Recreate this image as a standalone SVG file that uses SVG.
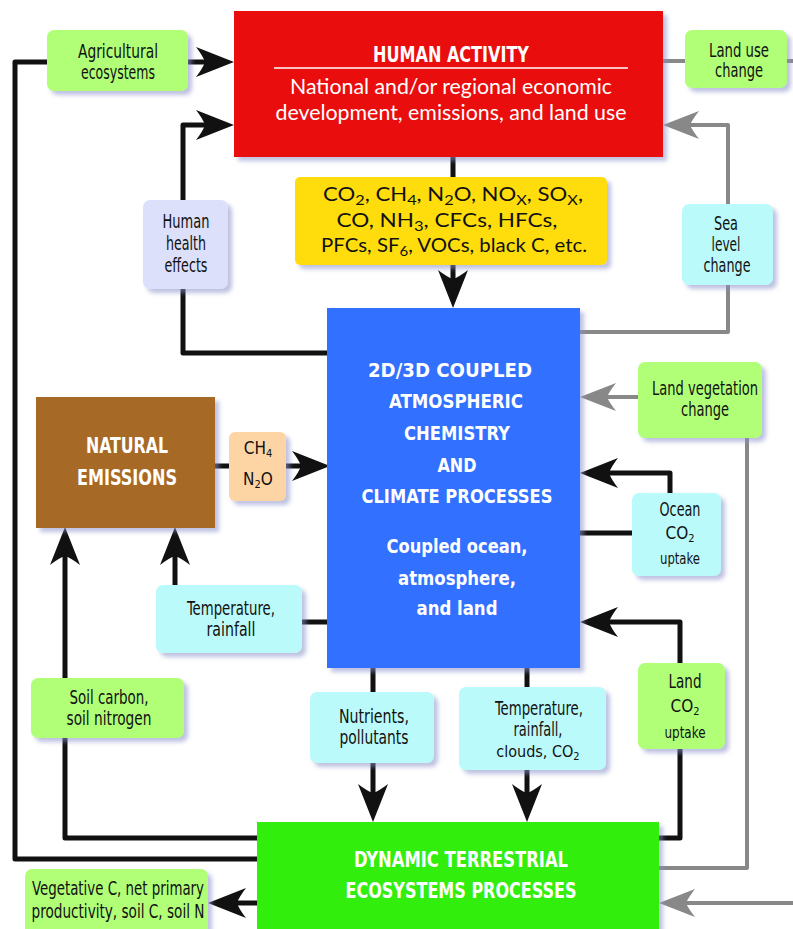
<svg xmlns="http://www.w3.org/2000/svg" width="793" height="929" viewBox="0 0 793 929">
<defs>
<style>
.ln{fill:none;stroke:#111;stroke-width:5;stroke-linejoin:round}
.gl{fill:none;stroke:#888;stroke-width:4;stroke-linejoin:round}
.lbl{font-family:"Liberation Sans Narrow","DejaVu Sans Condensed",sans-serif;font-size:19px;fill:#111;text-anchor:middle}
.chem{font-size:17px}
.sm{font-size:16px}
.sub{font-size:11px}
.bw{font-family:"DejaVu Sans Condensed","Liberation Sans",sans-serif;font-weight:bold;fill:#fff;text-anchor:middle}
.hum{font-family:Lato,"Open Sans","Liberation Sans",sans-serif;fill:#fff;text-anchor:middle;font-size:21px}
.yl{font-family:Lato,"Open Sans","Liberation Sans",sans-serif;fill:#111;text-anchor:middle;font-size:19px}
.box{filter:url(#sh)}
</style>
<filter id="sh" x="-10%" y="-10%" width="130%" height="130%">
<feDropShadow dx="4" dy="4" stdDeviation="2" flood-color="#8890c8" flood-opacity="0.55"/>
</filter>
<marker id="ab" viewBox="-40 -16 42 32" markerWidth="42" markerHeight="32" refX="-20" refY="0" orient="auto" markerUnits="userSpaceOnUse">
<path d="M0,0 L-38,-15 Q-31,-6 -29,0 Q-31,6 -38,15 Z" fill="#111"/>
</marker>
<marker id="ag" viewBox="-40 -16 42 32" markerWidth="42" markerHeight="32" refX="-20" refY="0" orient="auto" markerUnits="userSpaceOnUse">
<path d="M0,0 L-36,-14 Q-29,-5 -27,0 Q-29,5 -36,14 Z" fill="#888"/>
</marker>
</defs>
<rect width="793" height="929" fill="#fff"/>

<g id="connectors">
<path class="ln" d="M257,859 L15,859 L15,62 L214,62" marker-end="url(#ab)"/>
<path class="ln" d="M327,353 L183,353 L183,125 L214,125" marker-end="url(#ab)"/>
<path class="ln" d="M453,157 L453,288" marker-end="url(#ab)"/>
<path class="ln" d="M215,466 L310,466" marker-end="url(#ab)"/>
<path class="ln" d="M257,838 L65,838 L65,547" marker-end="url(#ab)"/>
<path class="ln" d="M327,622 L175,622 L175,547" marker-end="url(#ab)"/>
<path class="ln" d="M580,533 L632,533"/>
<path class="ln" d="M670,494 L670,473 L600,473" marker-end="url(#ab)"/>
<path class="ln" d="M659,838 L680,838 L680,622 L600,622" marker-end="url(#ab)"/>
<path class="ln" d="M373,668 L373,802" marker-end="url(#ab)"/>
<path class="ln" d="M527,668 L527,802" marker-end="url(#ab)"/>
<path class="ln" d="M257,903 L228,903" marker-end="url(#ab)"/>
<path class="gl" d="M663,61 L793,61"/>
<path class="gl" d="M580,332 L728,332 L728,125 L683,125" marker-end="url(#ag)"/>
<path class="gl" d="M638,397 L600,397" marker-end="url(#ag)"/>
<path class="gl" d="M747,438 L747,868 L659,868"/>
<path class="gl" d="M793,903 L679,903" marker-end="url(#ag)"/>
</g>

<g id="human-activity">
<rect class="box" x="234" y="11" width="429" height="146" fill="#ea1111"/>
<text class="bw" x="451" y="62" font-size="21" textLength="156" lengthAdjust="spacingAndGlyphs">HUMAN ACTIVITY</text>
<line x1="274" y1="68" x2="628" y2="68" stroke="#fff" stroke-width="1.5"/>
<text class="hum" x="451" y="94" textLength="322" lengthAdjust="spacingAndGlyphs">National and/or regional economic</text>
<text class="hum" x="451" y="120" textLength="351" lengthAdjust="spacingAndGlyphs">development, emissions, and land use</text>
</g>

<g id="emissions">
<rect class="box" x="295" y="177" width="312" height="88" rx="5" fill="#ffdd11"/>
<text class="yl" x="453" y="201" textLength="260" lengthAdjust="spacingAndGlyphs">CO<tspan dy="4" font-size="14">2</tspan><tspan dy="-4">, CH</tspan><tspan dy="4" font-size="14">4</tspan><tspan dy="-4">, N</tspan><tspan dy="4" font-size="14">2</tspan><tspan dy="-4">O, NO</tspan><tspan dy="4" font-size="14">X</tspan><tspan dy="-4">, SO</tspan><tspan dy="4" font-size="14">X</tspan><tspan dy="-4">,</tspan></text>
<text class="yl" x="447" y="227" textLength="221" lengthAdjust="spacingAndGlyphs">CO, NH<tspan dy="4" font-size="14">3</tspan><tspan dy="-4">, CFCs, HFCs,</tspan></text>
<text class="yl" x="454" y="252" textLength="266" lengthAdjust="spacingAndGlyphs">PFCs, SF<tspan dy="4" font-size="14">6</tspan><tspan dy="-4">, VOCs, black C, etc.</tspan></text>
</g>

<g id="agricultural">
<rect class="box" x="47" y="30" width="141" height="61" rx="7" fill="#b0ff77"/>
<text class="lbl" x="118" y="58" textLength="80" lengthAdjust="spacingAndGlyphs">Agricultural</text>
<text class="lbl" x="118" y="79" textLength="74" lengthAdjust="spacingAndGlyphs">ecosystems</text>
</g>

<g id="land-use">
<rect class="box" x="685" y="30" width="102" height="58" rx="7" fill="#b0ff77"/>
<text class="lbl" x="739" y="57" textLength="60" lengthAdjust="spacingAndGlyphs">Land use</text>
<text class="lbl" x="739" y="77" textLength="48" lengthAdjust="spacingAndGlyphs">change</text>
</g>

<g id="human-health">
<rect class="box" x="143" y="200" width="85" height="89" rx="7" fill="#dde0fa"/>
<text class="lbl" x="186" y="228" textLength="47" lengthAdjust="spacingAndGlyphs">Human</text>
<text class="lbl" x="186" y="250" textLength="40" lengthAdjust="spacingAndGlyphs">health</text>
<text class="lbl" x="186" y="272" textLength="43" lengthAdjust="spacingAndGlyphs">effects</text>
</g>

<g id="sea-level">
<rect class="box" x="682" y="204" width="91" height="81" rx="7" fill="#bbfafa"/>
<text class="lbl" x="726" y="230" textLength="24" lengthAdjust="spacingAndGlyphs">Sea</text>
<text class="lbl" x="726" y="251" textLength="29" lengthAdjust="spacingAndGlyphs">level</text>
<text class="lbl" x="727" y="272" textLength="47" lengthAdjust="spacingAndGlyphs">change</text>
</g>

<g id="climate">
<rect class="box" x="327" y="308" width="253" height="360" fill="#3370ff"/>
<text class="bw" x="450" y="377" font-size="20" textLength="164" lengthAdjust="spacingAndGlyphs">2D/3D COUPLED</text>
<text class="bw" x="456" y="408" font-size="20" textLength="134" lengthAdjust="spacingAndGlyphs">ATMOSPHERIC</text>
<text class="bw" x="457" y="440" font-size="20" textLength="106" lengthAdjust="spacingAndGlyphs">CHEMISTRY</text>
<text class="bw" x="457" y="472" font-size="20" textLength="39" lengthAdjust="spacingAndGlyphs">AND</text>
<text class="bw" x="457" y="503" font-size="20" textLength="191" lengthAdjust="spacingAndGlyphs">CLIMATE PROCESSES</text>
<text class="bw" x="457" y="553" font-size="20" textLength="141" lengthAdjust="spacingAndGlyphs">Coupled ocean,</text>
<text class="bw" x="457" y="585" font-size="20" textLength="118" lengthAdjust="spacingAndGlyphs">atmosphere,</text>
<text class="bw" x="457" y="615" font-size="20" textLength="81" lengthAdjust="spacingAndGlyphs">and land</text>
</g>

<g id="land-vegetation">
<rect class="box" x="638" y="362" width="124" height="76" rx="7" fill="#b0ff77"/>
<text class="lbl" x="705" y="395" textLength="106" lengthAdjust="spacingAndGlyphs">Land vegetation</text>
<text class="lbl" x="705" y="416" textLength="48" lengthAdjust="spacingAndGlyphs">change</text>
</g>

<g id="natural-emissions">
<rect class="box" x="36" y="397" width="179" height="131" fill="#a66a26"/>
<text class="bw" x="127" y="453" font-size="22" textLength="82" lengthAdjust="spacingAndGlyphs">NATURAL</text>
<text class="bw" x="127" y="485" font-size="22" textLength="100" lengthAdjust="spacingAndGlyphs">EMISSIONS</text>
</g>

<g id="ch4-n2o">
<rect class="box" x="229" y="432" width="57" height="69" rx="6" fill="#fdd5a5"/>
<text class="lbl chem" x="258" y="454">CH<tspan class="sub" dy="3">4</tspan></text>
<text class="lbl chem" x="258" y="485">N<tspan class="sub" dy="3">2</tspan><tspan dy="-3">O</tspan></text>
</g>

<g id="ocean-co2">
<rect class="box" x="632" y="493" width="89" height="83" rx="7" fill="#bbfafa"/>
<text class="lbl" x="680" y="516" textLength="41" lengthAdjust="spacingAndGlyphs">Ocean</text>
<text class="lbl chem" x="680" y="539">CO<tspan class="sub" dy="3">2</tspan></text>
<text class="lbl sm" x="680" y="564" textLength="40" lengthAdjust="spacingAndGlyphs">uptake</text>
</g>

<g id="temperature-rainfall">
<rect class="box" x="156" y="585" width="146" height="68" rx="7" fill="#bbfafa"/>
<text class="lbl" x="231" y="615" textLength="88" lengthAdjust="spacingAndGlyphs">Temperature,</text>
<text class="lbl" x="231" y="636" textLength="49" lengthAdjust="spacingAndGlyphs">rainfall</text>
</g>

<g id="soil">
<rect class="box" x="31" y="678" width="153" height="60" rx="7" fill="#b0ff77"/>
<text class="lbl" x="109" y="704" textLength="79" lengthAdjust="spacingAndGlyphs">Soil carbon,</text>
<text class="lbl" x="109" y="725" textLength="85" lengthAdjust="spacingAndGlyphs">soil nitrogen</text>
</g>

<g id="land-co2">
<rect class="box" x="638" y="663" width="87" height="86" rx="7" fill="#b0ff77"/>
<text class="lbl" x="685" y="688" textLength="33" lengthAdjust="spacingAndGlyphs">Land</text>
<text class="lbl chem" x="685" y="712">CO<tspan class="sub" dy="3">2</tspan></text>
<text class="lbl sm" x="685" y="738" textLength="41" lengthAdjust="spacingAndGlyphs">uptake</text>
</g>

<g id="nutrients">
<rect class="box" x="310" y="692" width="124" height="71" rx="7" fill="#bbfafa"/>
<text class="lbl" x="374" y="723" textLength="70" lengthAdjust="spacingAndGlyphs">Nutrients,</text>
<text class="lbl" x="374" y="744" textLength="69" lengthAdjust="spacingAndGlyphs">pollutants</text>
</g>

<g id="temperature-clouds">
<rect class="box" x="459" y="687" width="147" height="83" rx="7" fill="#bbfafa"/>
<text class="lbl" x="539" y="715" textLength="88" lengthAdjust="spacingAndGlyphs">Temperature,</text>
<text class="lbl" x="538" y="736" textLength="49" lengthAdjust="spacingAndGlyphs">rainfall,</text>
<text class="lbl sm" x="538" y="757">clouds, CO<tspan class="sub" dy="3">2</tspan></text>
</g>

<g id="terrestrial">
<rect class="box" x="257" y="822" width="402" height="120" fill="#33ee11"/>
<text class="bw" x="461" y="867" font-size="22" textLength="214" lengthAdjust="spacingAndGlyphs">DYNAMIC TERRESTRIAL</text>
<text class="bw" x="461" y="898" font-size="22" textLength="231" lengthAdjust="spacingAndGlyphs">ECOSYSTEMS PROCESSES</text>
</g>

<g id="vegetative">
<rect class="box" x="25" y="869" width="183" height="70" rx="7" fill="#b0ff77"/>
<text class="lbl" x="118" y="895" textLength="172" lengthAdjust="spacingAndGlyphs">Vegetative C, net primary</text>
<text class="lbl" x="118" y="918" textLength="173" lengthAdjust="spacingAndGlyphs">productivity, soil C, soil N</text>
</g>
</svg>
